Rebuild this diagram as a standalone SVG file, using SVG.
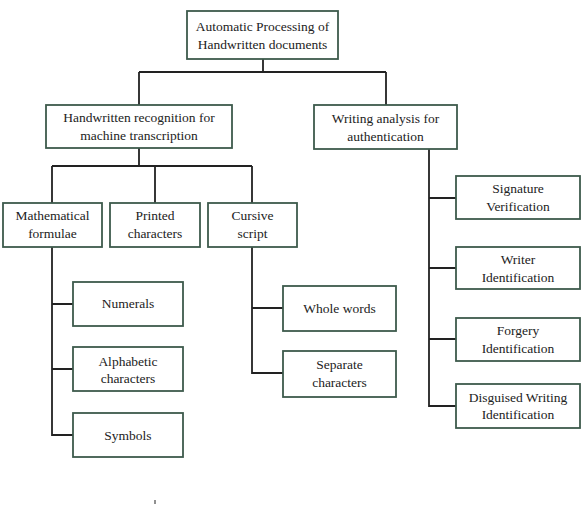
<svg xmlns="http://www.w3.org/2000/svg" width="582" height="506" viewBox="0 0 582 506">
<style>
.box{fill:#fff;stroke:#3d5a4c;stroke-width:1.8}
.t{font-family:"Liberation Serif","Times New Roman",serif;font-size:13.5px;fill:#222;text-anchor:middle}
.c{fill:none;stroke:#222;stroke-width:1.8}
</style>
<rect width="582" height="506" fill="#fff"/>
<g id="connectors" class="c">
<path d="M263 59V72M139 72H386M139 72V105M386 72V105"/>
<path d="M139 148V166M52 166H252M52 166V203M155 166V203M252 166V203"/>
<path d="M52 247V435H73M52 304H73M52 369H73"/>
<path d="M252 247V373H283M252 308H283"/>
<path d="M429 149V406H456M429 198H456M429 268H456M429 339H456"/>
<path d="M155 500V504" stroke-width="1"/>
</g>
<g id="root"><rect class="box" x="187" y="11" width="151" height="48"/><text class="t" x="262.5" y="30.5">Automatic Processing of</text><text class="t" x="262.5" y="48.5">Handwritten documents</text></g>
<g id="recognition"><rect class="box" x="46" y="105" width="186" height="43"/><text class="t" x="139" y="121.5">Handwritten recognition for</text><text class="t" x="139" y="139.5">machine transcription</text></g>
<g id="analysis"><rect class="box" x="314" y="105" width="143" height="44"/><text class="t" x="385.5" y="122.5">Writing analysis for</text><text class="t" x="385.5" y="140.5">authentication</text></g>
<g id="math"><rect class="box" x="3" y="203" width="99" height="44"/><text class="t" x="52.5" y="219.5">Mathematical</text><text class="t" x="52.5" y="237.5">formulae</text></g>
<g id="printed"><rect class="box" x="110" y="203" width="90" height="44"/><text class="t" x="155" y="219.5">Printed</text><text class="t" x="155" y="237.5">characters</text></g>
<g id="cursive"><rect class="box" x="208" y="203" width="89" height="44"/><text class="t" x="252.5" y="219.5">Cursive</text><text class="t" x="252.5" y="237.5">script</text></g>
<g id="numerals"><rect class="box" x="73" y="282" width="110" height="44"/><text class="t" x="128" y="307.5">Numerals</text></g>
<g id="alphabetic"><rect class="box" x="73" y="347" width="110" height="44"/><text class="t" x="128" y="365.5">Alphabetic</text><text class="t" x="128" y="382.5">characters</text></g>
<g id="symbols"><rect class="box" x="73" y="413" width="110" height="44"/><text class="t" x="128" y="439.5">Symbols</text></g>
<g id="whole"><rect class="box" x="283" y="286" width="113" height="45"/><text class="t" x="339.5" y="312.5">Whole words</text></g>
<g id="separate"><rect class="box" x="283" y="351" width="113" height="46"/><text class="t" x="339.5" y="368.5">Separate</text><text class="t" x="339.5" y="386.5">characters</text></g>
<g id="signature"><rect class="box" x="456" y="176" width="124" height="43"/><text class="t" x="518" y="192.5">Signature</text><text class="t" x="518" y="210.5">Verification</text></g>
<g id="writer"><rect class="box" x="456" y="247" width="124" height="42"/><text class="t" x="518" y="263.5">Writer</text><text class="t" x="518" y="281.5">Identification</text></g>
<g id="forgery"><rect class="box" x="456" y="318" width="124" height="43"/><text class="t" x="518" y="334.5">Forgery</text><text class="t" x="518" y="352.5">Identification</text></g>
<g id="disguised"><rect class="box" x="456" y="384" width="124" height="44"/><text class="t" x="518" y="401.5">Disguised Writing</text><text class="t" x="518" y="418.5">Identification</text></g>
</svg>
